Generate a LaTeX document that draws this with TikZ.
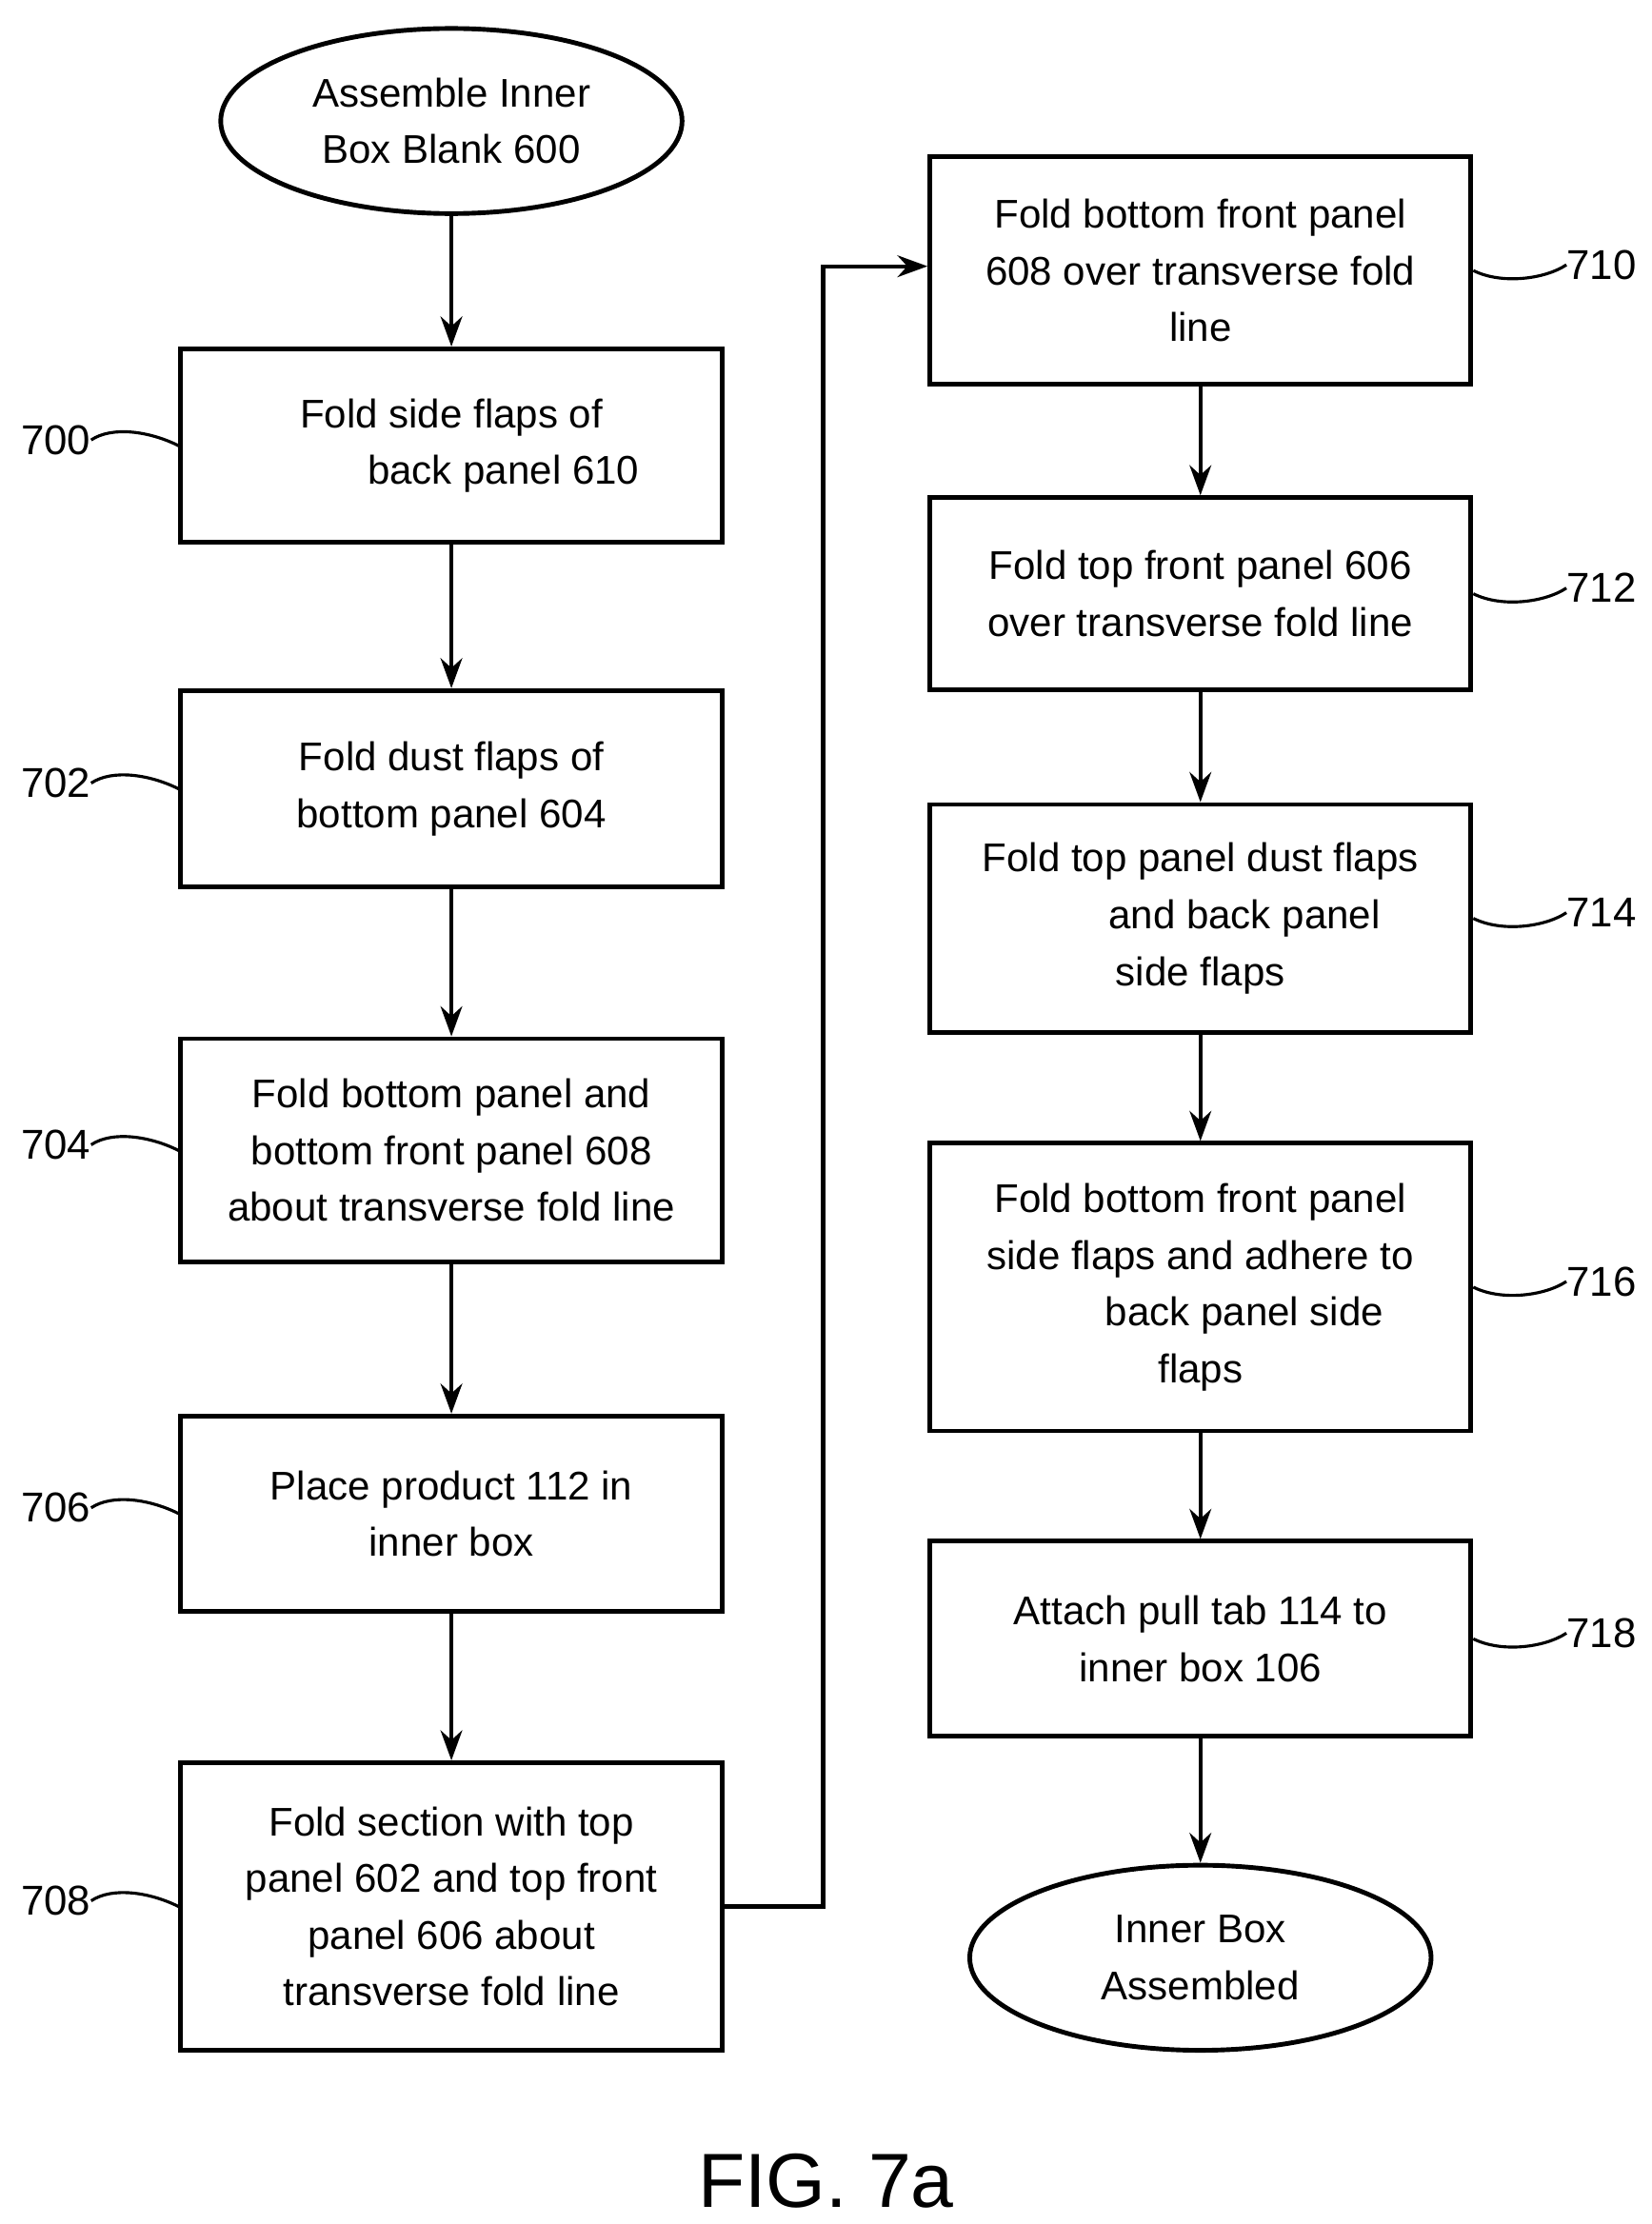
\documentclass[tikz,border=0pt]{standalone}
\usepackage{fontspec}
\setmainfont{Liberation Sans}
\usetikzlibrary{shapes.geometric,arrows.meta}
\begin{document}
\begin{tikzpicture}[x=0.03cm,y=-0.03cm,
  box/.style={draw,line width=2.8pt,align=center,inner sep=0pt,font=\fontsize{24}{34}\selectfont},
  term/.style={draw,ellipse,line width=2.8pt,align=center,inner sep=0pt,minimum width=324*0.03cm,minimum height=130*0.03cm,font=\fontsize{24}{34}\selectfont},
  arr/.style={line width=2.4pt,-{Stealth[length=18pt,width=13pt]}},
  lab/.style={font=\fontsize{25}{30}\selectfont,inner sep=0pt},
  wav/.style={line width=1.8pt}]
\useasboundingbox (0,0) rectangle (1160,1562);
\newcommand{\bx}[5]{\node[box,minimum width=380*0.03cm,minimum height=#4*0.03cm] (#1) at (#2,#3) {#5};}
\node[term] (s) at (317,85) {Assemble Inner\\Box Blank 600};
\bx{b700}{317}{313}{136}{Fold side flaps of\hspace{1.8em}\\\hspace{2.6em}back panel 610}
\bx{b702}{317}{554}{138}{Fold dust flaps of\\bottom panel 604}
\bx{b704}{317}{808}{157}{Fold bottom panel and\\bottom front panel 608\\about transverse fold line}
\bx{b706}{317}{1063}{137}{Place product 112 in\\inner box}
\bx{b708}{317}{1339}{202}{Fold section with top\\panel 602 and top front\\panel 606 about\\transverse fold line}
\bx{b710}{843}{190}{160}{Fold bottom front panel\\608 over transverse fold\\line}
\bx{b712}{843}{417}{135}{Fold top front panel 606\\over transverse fold line}
\bx{b714}{843}{645}{160}{Fold top panel dust flaps\\\hspace{2.2em}and back panel\\side flaps}
\bx{b716}{843}{904}{202}{Fold bottom front panel\\side flaps and adhere to\\\hspace{2.2em}back panel side\\flaps}
\bx{b718}{843}{1151}{137}{Attach pull tab 114 to\\inner box 106}
\node[term] (e) at (843,1375) {Inner Box\\Assembled};
\draw[arr] (s) -- (b700);
\draw[arr] (b700) -- (b702);
\draw[arr] (b702) -- (b704);
\draw[arr] (b704) -- (b706);
\draw[arr] (b706) -- (b708);
\coordinate (c1) at (578,1339);
\coordinate (c2) at (578,187);
\draw[arr] (b708.east) -- (c1) -- (c2) -- (b710.west |- c2);
\draw[arr] (b710) -- (b712);
\draw[arr] (b712) -- (b714);
\draw[arr] (b714) -- (b716);
\draw[arr] (b716) -- (b718);
\draw[arr] (b718) -- (e);
\foreach \n/\y in {700/313,702/554,704/808,706/1063,708/1339}{
  \node[lab,anchor=east] (l\n) at (64,\y-4) {\n};
  \draw[wav] (l\n.east) .. controls +(15,-10) and +(-20,-10) .. (b\n.west);
}
\foreach \n/\y in {710/190,712/417,714/645,716/904,718/1151}{
  \node[lab,anchor=west] (l\n) at (1100,\y-4) {\n};
  \draw[wav] (b\n.east) .. controls +(20,10) and +(-15,10) .. (l\n.west);
}
\node[font=\fontsize{46}{50}\selectfont,inner sep=0pt] (fig) at (580,1532) {FIG. 7a};
\end{tikzpicture}
\end{document}
